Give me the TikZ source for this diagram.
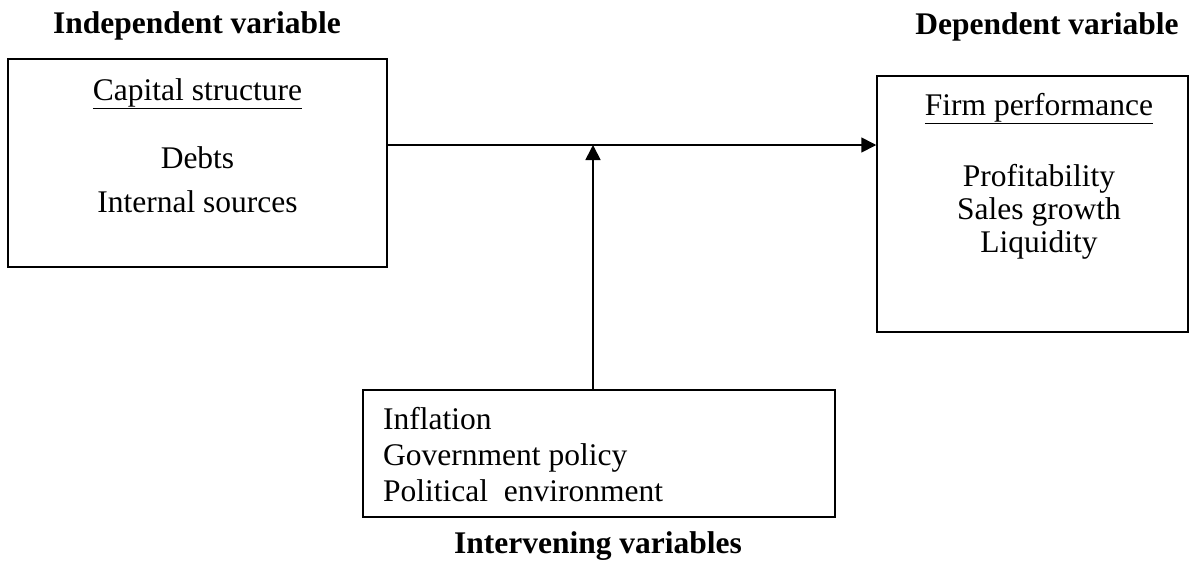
\documentclass[tikz,border=0pt]{standalone}
\usepackage{fontspec}
\setmainfont{Liberation Serif}
\usetikzlibrary{arrows.meta}
\tikzset{
  boxstyle/.style={draw=black, line width=1.5pt, inner sep=0pt},
  txt/.style={font=\fontsize{31.5}{36}\selectfont, inner sep=0pt, anchor=base},
  ltxt/.style={font=\fontsize{31.5}{36}\selectfont, inner sep=0pt, anchor=base west},
  ttl/.style={font=\fontsize{31.5}{36}\selectfont\bfseries, inner sep=0pt, anchor=base},
  conn/.style={line width=1.7pt, -{Triangle[length=15pt,width=15pt]}}
}
\begin{document}
\begin{tikzpicture}[x=1pt,y=-1pt]
\useasboundingbox (0,0) rectangle (1189,560);
% titles
\node[ttl] (tin) at (197,33) {Independent variable};
\node[ttl] (tdep) at (1047,34) {Dependent variable};
\node[ttl] (tint) at (598,553) {Intervening variables};
% boxes
\node[boxstyle, minimum width=379pt, minimum height=208pt] (lbox) at (197.5,163) {};
\node[boxstyle, minimum width=311pt, minimum height=256pt] (rbox) at (1032.5,204) {};
\node[boxstyle, minimum width=472pt, minimum height=127pt] (bbox) at (599,453.5) {};
% left box text
\node[txt] (cs) at (197.5,100) {\underline{Capital structure}};
\node[txt] (debts) at (197.5,168) {Debts};
\node[txt] (isrc) at (197.5,212) {Internal sources};
% right box text
\node[txt] (fp) at (1039,115) {\underline{Firm performance}};
\node[txt] (prof) at (1039,186) {Profitability};
\node[txt] (sg) at (1039,219) {Sales growth};
\node[txt] (liq) at (1039,252) {Liquidity};
% bottom box text
\node[ltxt] (inf) at (383,429) {Inflation};
\node[ltxt] (gov) at (383,465) {Government policy};
\node[ltxt] (pol) at (383,501) {Political\ \ environment};
% connectors
\coordinate (hl) at (0,145);
\coordinate (vt) at (593,145);
\draw[conn] (lbox.east |- hl) -- (rbox.west |- hl);
\draw[conn] (bbox.north -| vt) -- (vt);
\end{tikzpicture}
\end{document}
